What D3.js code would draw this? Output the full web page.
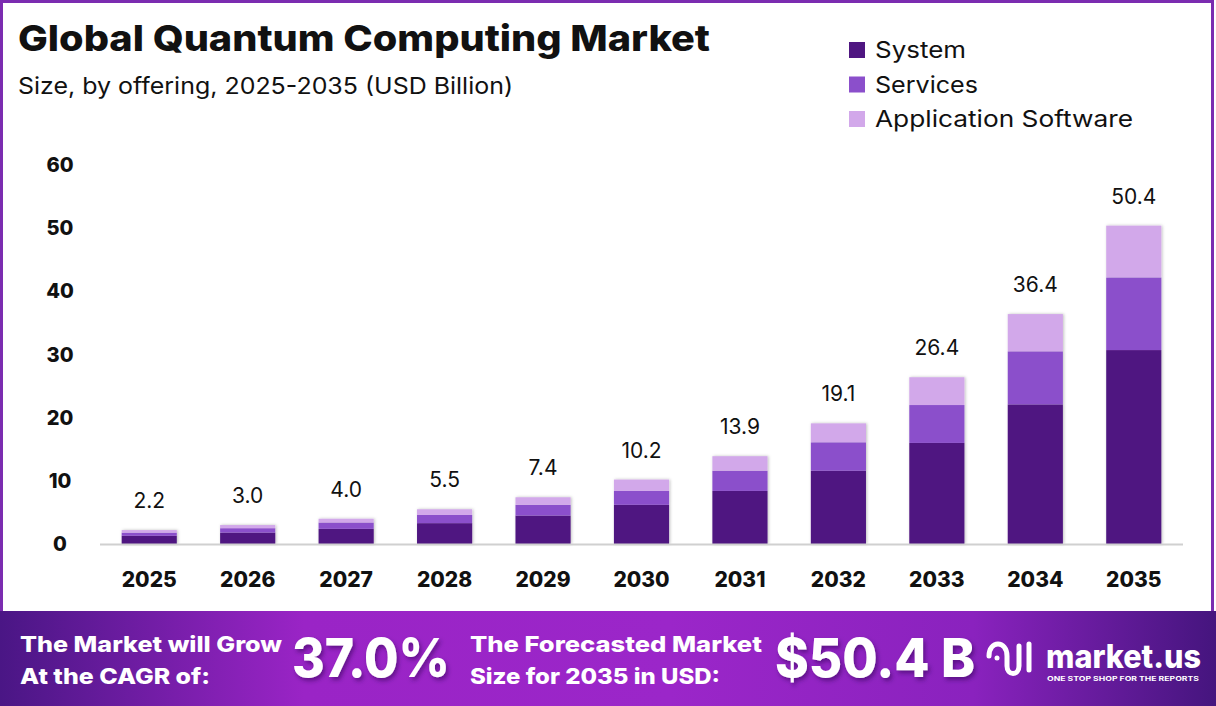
<!DOCTYPE html>
<html>
<head>
<script src="https://d3js.org/d3.v7.min.js"></script>
<style>
  body { margin: 0; background: #fff; }
  svg { display: block; font-family: Inter, "Noto Sans", sans-serif; }
</style>
</head>
<body>
<script>
// chart data
var years = ["2025", "2026", "2027", "2028", "2029", "2030", "2031", "2032", "2033", "2034", "2035"];
var system = [1.3, 1.8, 2.4, 3.3, 4.5, 6.2, 8.4, 11.6, 16.0, 22.1, 30.7];
var services = [0.5, 0.7, 1.0, 1.3, 1.7, 2.2, 3.2, 4.5, 6.0, 8.4, 11.5];
var appSoftware = [0.4, 0.5, 0.6, 0.9, 1.2, 1.8, 2.3, 3.0, 4.4, 5.9, 8.2];
var totals = ["2.2", "3.0", "4.0", "5.5", "7.4", "10.2", "13.9", "19.1", "26.4", "36.4", "50.4"];
var seriesNames = ["System", "Services", "Application Software"];
var yTicks = [0, 10, 20, 30, 40, 50, 60];
var colors = ["#4f1681", "#8b4fcb", "#d2a8ea"];

var W = 1216, H = 706;
var svg = d3.select("body").append("svg").attr("width", W).attr("height", H);

var defs = svg.append("defs");
var shadow = defs.append("filter").attr("id", "shadow").attr("x", "-20%").attr("y", "-10%").attr("width", "140%").attr("height", "120%");
shadow.append("feDropShadow").attr("dx", 1).attr("dy", 0).attr("stdDeviation", 1.5).attr("flood-color", "#000").attr("flood-opacity", 0.25);

var grad = defs.append("linearGradient").attr("id", "banner").attr("x1", "0%").attr("x2", "100%");
grad.append("stop").attr("offset", "0%").attr("stop-color", "#4a1685");
grad.append("stop").attr("offset", "25%").attr("stop-color", "#9a24c6");
grad.append("stop").attr("offset", "55%").attr("stop-color", "#9b26c9");
grad.append("stop").attr("offset", "80%").attr("stop-color", "#8a22be");
grad.append("stop").attr("offset", "100%").attr("stop-color", "#45157e");

var txtShadow = defs.append("filter").attr("id", "tshadow");
txtShadow.append("feDropShadow").attr("dx", 2).attr("dy", 3).attr("stdDeviation", 2).attr("flood-color", "#2a0050").attr("flood-opacity", 0.5);

// helper: text stretched to the width seen in the picture
function fitText(sel, len) {
  return sel.attr("textLength", len).attr("lengthAdjust", "spacingAndGlyphs");
}

// frame
svg.append("rect").attr("x", 1.5).attr("y", 1.5).attr("width", W - 5).attr("height", 640)
  .attr("fill", "#fff").attr("stroke", "#7b2cb0").attr("stroke-width", 3);

// titles
fitText(svg.append("text").attr("x", 18).attr("y", 51).text("Global Quantum Computing Market")
  .style("font-size", "36px").style("font-weight", 800).attr("fill", "#111"), 692);
fitText(svg.append("text").attr("x", 18).attr("y", 94).text("Size, by offering, 2025-2035 (USD Billion)")
  .style("font-size", "23px").attr("fill", "#111"), 495);

// legend
var legendW = [91, 103, 258];
var legend = svg.append("g").attr("transform", "translate(849,40)");
seriesNames.forEach(function (name, i) {
  var g = legend.append("g").attr("transform", "translate(0," + (i * 34.5) + ")");
  g.append("rect").attr("width", 16).attr("height", 16).attr("y", 2).attr("fill", colors[i]);
  fitText(g.append("text").attr("x", 26).attr("y", 18).text(name).style("font-size", "23px").attr("fill", "#111"), legendW[i]);
});

// scales
var x = d3.scaleBand().domain(years).range([100, 1183]).paddingInner(0.44).paddingOuter(0.22);
var y = d3.scaleLinear().domain([0, 60]).range([544, 165]);

// y labels
svg.append("g").selectAll("text").data(yTicks).enter().append("text")
  .attr("x", 60).attr("y", function (d) { return y(d) + 7; })
  .attr("text-anchor", "middle").text(function (d) { return d; })
  .style("font-size", "20px").style("font-weight", 800).attr("fill", "#111");

// stack
var rows = years.map(function (yr, i) {
  return { year: yr, System: system[i], Services: services[i], "Application Software": appSoftware[i] };
});
var stacked = d3.stack().keys(seriesNames)(rows);

var barG = svg.append("g").attr("filter", "url(#shadow)");
stacked.forEach(function (layer, li) {
  barG.append("g").attr("fill", colors[li]).selectAll("rect").data(layer).enter().append("rect")
    .attr("x", function (d) { return x(d.data.year); })
    .attr("width", x.bandwidth())
    .attr("y", function (d) { return y(d[1]); })
    .attr("height", function (d) { return y(d[0]) - y(d[1]); });
});

// axis line
svg.append("line").attr("x1", 100).attr("x2", 1183).attr("y1", 544.5).attr("y2", 544.5)
  .attr("stroke", "#d0d0d0").attr("stroke-width", 2);

// total labels
svg.append("g").selectAll("text").data(years).enter().append("text")
  .attr("x", function (d) { return x(d) + x.bandwidth() / 2; })
  .attr("y", function (d, i) { return y(system[i] + services[i] + appSoftware[i]) - 22; })
  .attr("text-anchor", "middle").text(function (d, i) { return totals[i]; })
  .style("font-size", "21px").attr("fill", "#111");

// x labels
svg.append("g").selectAll("text").data(years).enter().append("text")
  .attr("x", function (d) { return x(d) + x.bandwidth() / 2; })
  .attr("y", 587).attr("text-anchor", "middle").text(function (d) { return d; })
  .style("font-size", "21px").style("font-weight", 800).attr("fill", "#111");

// banner
svg.append("rect").attr("x", 0).attr("y", 611).attr("width", W).attr("height", H - 611).attr("fill", "url(#banner)");
var bt = svg.append("g").attr("fill", "#fff").style("font-weight", 800);
fitText(bt.append("text").attr("x", 20).attr("y", 652).text("The Market will Grow").style("font-size", "22px"), 262);
fitText(bt.append("text").attr("x", 20).attr("y", 684).text("At the CAGR of:").style("font-size", "22px"), 190);
fitText(bt.append("text").attr("x", 292).attr("y", 677).text("37.0%").style("font-size", "53px").attr("filter", "url(#tshadow)"), 158);
fitText(bt.append("text").attr("x", 470).attr("y", 652).text("The Forecasted Market").style("font-size", "22px"), 292);
fitText(bt.append("text").attr("x", 470).attr("y", 684).text("Size for 2035 in USD:").style("font-size", "22px"), 250);
fitText(bt.append("text").attr("x", 775).attr("y", 677).text("$50.4 B").style("font-size", "53px").attr("filter", "url(#tshadow)"), 200);

// logo
var logo = svg.append("g").attr("transform", "translate(985,636)").attr("fill", "none").attr("stroke", "#fff").attr("stroke-width", 5).attr("stroke-linecap", "round");
logo.append("path").attr("d", "M4,20 C4,4 22,4 22,20 L22,30 C22,40 34,40 34,30 L34,10");
logo.append("path").attr("d", "M44,8 L44,34");
logo.append("circle").attr("cx", 12).attr("cy", 22).attr("r", 2.5).attr("fill", "#fff").attr("stroke", "none");
fitText(svg.append("text").attr("x", 1046).attr("y", 668).text("market.us").attr("fill", "#fff")
  .style("font-size", "32px").style("font-weight", 800), 155);
fitText(svg.append("text").attr("x", 1047).attr("y", 681).text("ONE STOP SHOP FOR THE REPORTS").attr("fill", "#fff")
  .style("font-size", "6.5px").style("font-weight", 700), 152);
</script>
</body>
</html>
